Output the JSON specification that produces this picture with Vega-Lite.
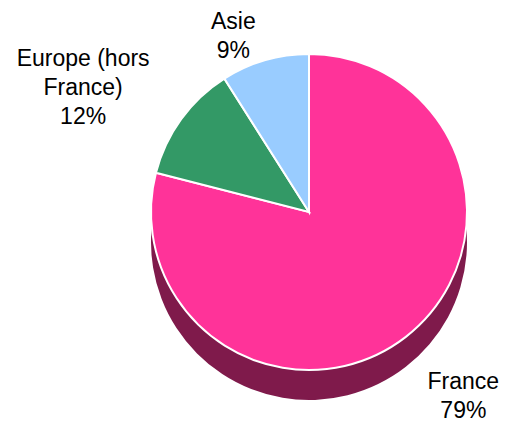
{
  "$schema": "https://vega.github.io/schema/vega-lite/v6.json",
  "width": 394,
  "height": 424,
  "autosize": "none",
  "padding": {"left": 112, "top": 0, "right": 0, "bottom": 0},
  "background": "white",
  "data": {
    "values": [
      {"Region": "France", "Share": 79, "label": ["France", "79%"]},
      {"Region": "Europe (hors France)", "Share": 12, "label": ["Europe (hors", "France)", "12%"]},
      {"Region": "Asie", "Share": 9, "label": ["Asie", "9%"]}
    ]
  },
  "transform": [
    {"stack": "Share", "groupby": [], "as": ["s0", "s1"], "sort": [{"field": "Share", "order": "descending"}]},
    {"calculate": "(datum.s0 + datum.s1) / 2", "as": "mid"}
  ],
  "layer": [
    {
      "mark": {"type": "arc", "radius": 158, "yOffset": 30, "color": "#7F1A4B"},
      "encoding": {
        "theta": {"field": "s0", "type": "quantitative", "scale": {"domain": [0, 100]}},
        "theta2": {"field": "s1"}
      }
    },
    {
      "mark": {"type": "arc", "radius": 158, "stroke": "white", "strokeWidth": 2},
      "encoding": {
        "theta": {"field": "s0", "type": "quantitative", "scale": {"domain": [0, 100]}},
        "theta2": {"field": "s1"},
        "color": {
          "field": "Region",
          "type": "nominal",
          "scale": {"domain": ["France", "Europe (hors France)", "Asie"], "range": ["#FF3399", "#339966", "#99CCFF"]},
          "legend": null
        }
      }
    },
    {
      "transform": [{"filter": "datum.Region === 'France'"}],
      "mark": {"type": "text", "font": "Liberation Sans", "fontSize": 23, "lineHeight": 29, "color": "black", "align": "center", "baseline": "middle", "radius": 229, "dx": 14, "dy": -11},
      "encoding": {
        "theta": {"field": "mid", "type": "quantitative", "scale": {"domain": [0, 100]}},
        "text": {"field": "label"}
      }
    },
    {
      "transform": [{"filter": "datum.Region === 'Asie'"}],
      "mark": {"type": "text", "font": "Liberation Sans", "fontSize": 23, "lineHeight": 29, "color": "black", "align": "center", "baseline": "middle", "radius": 203, "dx": -19, "dy": 5},
      "encoding": {
        "theta": {"field": "mid", "type": "quantitative", "scale": {"domain": [0, 100]}},
        "text": {"field": "label"}
      }
    },
    {
      "transform": [{"filter": "datum.Region === 'Europe (hors France)'"}],
      "mark": {"type": "text", "font": "Liberation Sans", "fontSize": 23, "lineHeight": 29, "color": "black", "align": "center", "baseline": "middle", "radius": 273, "dx": -5, "dy": 7},
      "encoding": {
        "theta": {"field": "mid", "type": "quantitative", "scale": {"domain": [0, 100]}},
        "text": {"field": "label"}
      }
    }
  ]
}
